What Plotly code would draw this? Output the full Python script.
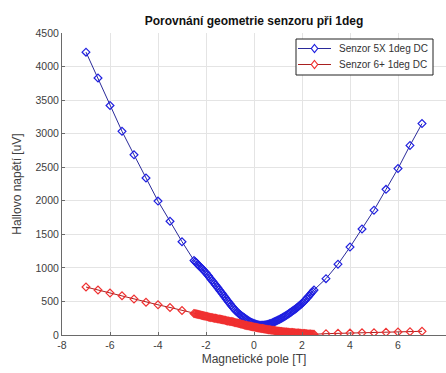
import plotly.graph_objects as go

# Magnetic field [T]: coarse 0.5 T steps outside +-2.5 T, fine 0.05 T steps inside
field_left = [-7.0, -6.5, -6.0, -5.5, -5.0, -4.5, -4.0, -3.5, -3.0]
field_mid = [round(-2.5 + 0.05 * i, 2) for i in range(101)]
field_right = [3.0, 3.5, 4.0, 4.5, 5.0, 5.5, 6.0, 6.5, 7.0]
field = field_left + field_mid + field_right

# Hall voltage [uV], sensor 5X
u_5x_left = [4215, 3830, 3420, 3035, 2685, 2340, 1995, 1695, 1390]
u_5x_mid = [1110, 1092, 1076, 1054, 1037, 1018, 1001, 982, 966, 944,
            926, 903, 882, 857, 836, 812, 791, 767, 746, 722,
            701, 675, 652, 628, 606, 580, 557, 533, 511, 487,
            466, 441, 421, 397, 377, 358, 341, 324, 311, 295,
            281, 268, 256, 242, 231, 217, 206, 194, 186, 177,
            171, 163, 158, 153, 150, 147, 146, 145, 147, 149,
            152, 155, 161, 166, 173, 180, 189, 196, 206, 213,
            223, 231, 241, 250, 261, 271, 283, 293, 306, 317,
            331, 342, 356, 367, 381, 395, 411, 424, 441, 455,
            471, 487, 506, 524, 546, 565, 586, 607, 631, 650,
            671]
u_5x_right = [840, 1055, 1310, 1580, 1860, 2170, 2480, 2825, 3150]
u_5x = u_5x_left + u_5x_mid + u_5x_right

# Hall voltage [uV], sensor 6+
u_6p_left = [715, 670, 625, 585, 535, 488, 450, 410, 365]
u_6p_mid = [320, 317, 312, 309, 305, 300, 296, 292, 287, 283,
            278, 274, 270, 266, 262, 259, 255, 251, 248, 244,
            240, 237, 233, 230, 226, 222, 218, 214, 210, 207,
            203, 200, 196, 192, 188, 184, 180, 175, 170, 165,
            160, 155, 150, 146, 142, 139, 135, 131, 128, 124,
            120, 116, 112, 109, 105, 101, 98, 95, 92, 89,
            86, 83, 80, 78, 75, 72, 70, 67, 64, 61,
            58, 56, 53, 51, 49, 47, 45, 44, 42, 40,
            39, 37, 36, 34, 33, 31, 30, 28, 27, 25,
            24, 22, 21, 19, 18, 16, 15, 14, 13, 12,
            11]
u_6p_right = [20, 25, 28, 32, 35, 40, 45, 50, 55]
u_6p = u_6p_left + u_6p_mid + u_6p_right

assert len(field) == len(u_5x) == len(u_6p)

series_names = ["Senzor 5X 1deg DC", "Senzor 6+ 1deg DC"]
x_ticks = [-8, -6, -4, -2, 0, 2, 4, 6, 8]
y_ticks = [0, 500, 1000, 1500, 2000, 2500, 3000, 3500, 4000, 4500]

FONT = "Liberation Sans, Arial, Helvetica, sans-serif"
W, H = 446, 373
ML, MR, MT, MB = 62, 0, 33, 38

line_cols = ["#2a2a9a", "#a82020"]
mark_cols = ["#1f1fe0", "#f03030"]


def px_to_paper(px, py):
    """Window pixel -> paper coordinates of the plotting area."""
    return (px - ML) / (W - ML - MR), 1 - (py - MT) / (H - MT - MB)


fig = go.Figure()
for xs, ys, name, lc, mc in [(field, u_5x, series_names[0], line_cols[0], mark_cols[0]),
                             (field, u_6p, series_names[1], line_cols[1], mark_cols[1])]:
    fig.add_trace(go.Scatter(
        x=xs, y=ys, mode="lines+markers", name=name, showlegend=False,
        line=dict(color=lc, width=1),
        marker=dict(symbol="diamond-open", size=6, color=mc,
                    line=dict(width=1.2, color=mc)),
    ))

# Boxed legend in the upper-right corner
shapes = []
annotations = []
x0, y0 = px_to_paper(296, 39)
x1, y1 = px_to_paper(433, 75)
shapes.append(dict(type="rect", xref="paper", yref="paper", x0=x0, y0=y0, x1=x1, y1=y1,
                   line=dict(color="#222222", width=1), fillcolor="white", layer="above"))
for i, (name, lc, mc) in enumerate(zip(series_names, line_cols, mark_cols)):
    row_y = 48.5 + 16 * i
    ax0, ay = px_to_paper(298, row_y)
    ax1, _ = px_to_paper(331, row_y)
    shapes.append(dict(type="line", xref="paper", yref="paper", x0=ax0, y0=ay, x1=ax1, y1=ay,
                       line=dict(color=lc, width=1), layer="above"))
    cx, cy = 314.5, row_y
    pts = [px_to_paper(cx, cy - 4), px_to_paper(cx + 3.2, cy),
           px_to_paper(cx, cy + 4), px_to_paper(cx - 3.2, cy)]
    path = "M " + " L ".join(f"{p[0]},{p[1]}" for p in pts) + " Z"
    shapes.append(dict(type="path", xref="paper", yref="paper", path=path,
                       line=dict(color=mc, width=1.2), fillcolor="white", layer="above"))
    tx, ty = px_to_paper(337, row_y)
    annotations.append(dict(text=name, xref="paper", yref="paper", x=tx, y=ty,
                            xanchor="left", yanchor="middle", showarrow=False,
                            font=dict(family=FONT, size=10, color="#333333")))

fig.update_layout(
    width=W, height=H,
    margin=dict(l=ML, r=MR, t=MT, b=MB),
    paper_bgcolor="white", plot_bgcolor="white",
    font=dict(family=FONT, size=10, color="#404040"),
    title=dict(text="<b>Porovnání geometrie senzoru při 1deg</b>",
               x=(ML + W) / 2 / W, xanchor="center",
               y=1 - 21 / H, yanchor="middle",
               font=dict(family=FONT, size=12, color="#111111")),
    shapes=shapes,
    annotations=annotations,
)
fig.update_xaxes(
    range=[-8, 8], tickvals=x_ticks, ticktext=[str(v) for v in x_ticks],
    showgrid=True, gridcolor="#e4e4e4", gridwidth=1, zeroline=False,
    showline=True, linecolor="#6a6a6a", linewidth=1,
    ticks="inside", ticklen=3, tickcolor="#6a6a6a",
    tickfont=dict(family=FONT, size=10.5, color="#404040"),
    title=dict(text="Magnetické pole [T]", standoff=5,
               font=dict(family=FONT, size=12, color="#404040")),
)
fig.update_yaxes(
    range=[0, 4500], tickvals=y_ticks, ticktext=[str(v) for v in y_ticks],
    showgrid=True, gridcolor="#e4e4e4", gridwidth=1, zeroline=False,
    showline=True, linecolor="#6a6a6a", linewidth=1,
    ticks="inside", ticklen=3, tickcolor="#6a6a6a",
    tickfont=dict(family=FONT, size=10.5, color="#404040"),
    title=dict(text="Hallovo napětí [uV]", standoff=11,
               font=dict(family=FONT, size=12, color="#404040")),
)

fig.write_html("out.html")
